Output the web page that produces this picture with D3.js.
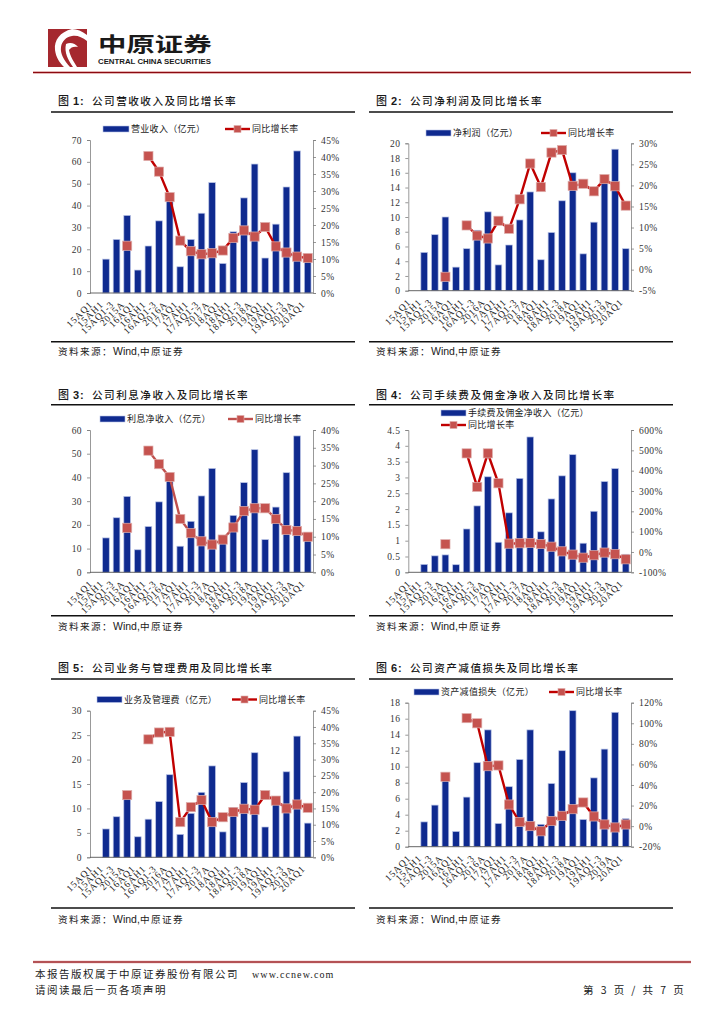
<!DOCTYPE html>
<html><head><meta charset="utf-8">
<script src="https://cdn.jsdelivr.net/npm/d3@7/dist/d3.min.js"></script>
<style>
html,body{margin:0;padding:0;background:#fff}
svg{display:block}
text{font-family:"Noto Sans CJK SC","Noto Sans",sans-serif;fill:#1a1a1a}
.tick text{font-family:"Liberation Serif",serif;font-size:9.5px;letter-spacing:0.4px;fill:#333}
.xl text{font-family:"Liberation Serif",serif;font-size:9.5px;letter-spacing:0.9px;fill:#222}
</style></head><body>
<svg id="page" width="724" height="1024"></svg>
<script>
const periods = ["15AQ1","15AH1","15AQ1-3","2015A","16AQ1","16AH1","16AQ1-3","2016A","17AQ1","17AH1","17AQ1-3","2017A","18AQ1","18AH1","18AQ1-3","2018A","19AQ1","19AH1","19AQ1-3","2019A","20AQ1"];

const revenue = [null,15.5,24.5,35.5,10.5,21.5,33,43,12,24.5,36.5,50.5,13.5,28,43.5,59,16,31.5,48.5,65,17];
const revenueYoy = [null,null,null,13.9,null,40.3,35.7,28.2,15.4,12.3,11.4,11.7,12.5,16.2,18.4,16.6,19.4,13.7,11.9,10.7,10.3];

const profit = [null,5.2,7.6,10,3.2,5.7,8.2,10.7,3.5,6.2,9.6,13.4,4.2,7.9,12.2,16,5,9.3,14.7,19.2,5.7];
const profitYoy = [null,null,null,-1.7,null,10.5,8.1,7.4,11.6,9.7,16.7,25.2,19.6,27.8,28.4,19.9,20.4,18.6,21.5,19.8,15.2];

const interest = [null,14.5,23,32,9.5,19.3,29.7,40,11,21.5,32.2,43.8,12.5,24,37.8,51.7,13.8,27.5,42,57.5,14];
const interestYoy = [null,null,null,12.5,null,34.2,30.4,26.8,15,11,8.7,7.8,9.2,12.6,17.2,18,18,15,11.9,11.6,10];

const fees = [null,0.25,0.52,0.55,0.24,1.37,2.1,3.02,0.95,1.88,2.97,4.28,1.28,2.32,3.05,3.72,0.92,1.93,2.87,3.28,0.57];
const feesYoy = [null,null,null,38,null,485,320,485,338,41,43,44,39,26,3,-13,-28,-16,-3,-11,-36];

const opex = [null,5.8,8.3,12.5,4.2,7.8,11.4,16.9,4.7,9,13.3,18.7,5.2,10.2,15.3,21.4,6.2,11,17.5,24.8,7];
const opexYoy = [null,null,null,19.1,null,36.2,38.3,38.5,10.8,15.4,17.6,10.8,12.3,13.9,14.9,14.6,19.1,17.4,15,16.2,15.2];

const impair = [null,3.1,5.2,9.2,1.9,6.2,10.5,14.6,2.9,7.5,10.9,14.6,2.8,7.9,12,17,3.4,8.6,12.2,16.8,3.5];
const impairYoy = [null,null,null,48,null,105,100,58.3,59,21,4,0,-5,5,10,16.5,23,9.4,1.6,-1.3,1.6];

const yoyLabel = "同比增长率";
const sourceLabel = "Wind,";
const sourceName = "中原证券";

const leftTicks1 = [0,10,20,30,40,50,60,70];
const rightTicks1 = [0,5,10,15,20,25,30,35,40,45];
const leftTicks2 = [0,2,4,6,8,10,12,14,16,18,20];
const rightTicks2 = [-5,0,5,10,15,20,25,30];
const leftTicks3 = [0,10,20,30,40,50,60];
const rightTicks3 = [0,5,10,15,20,25,30,35,40];
const leftTicks4 = [0,0.5,1,1.5,2,2.5,3,3.5,4,4.5];
const rightTicks4 = [-100,0,100,200,300,400,500,600];
const leftTicks5 = [0,5,10,15,20,25,30];
const rightTicks5 = [0,5,10,15,20,25,30,35,40,45];
const leftTicks6 = [0,2,4,6,8,10,12,14,16,18];
const rightTicks6 = [-20,0,20,40,60,80,100,120];

const LX = [90,313], RX = [408.3,631];
const panels = [
 {n:"1",title:"公司营收收入及同比增长率",name:"营业收入（亿元）",bars:revenue,yoy:revenueYoy,lt:leftTicks1,rt:rightTicks1,x:LX,y:[140,293],rule:51,titleY:105,top:112,bottom:341.7,src:355,sw:[103,129,129],ln:[225,250,129],lineC:"#c00000"},
 {n:"2",title:"公司净利润及同比增长率",name:"净利润（亿元）",bars:profit,yoy:profitYoy,lt:leftTicks2,rt:rightTicks2,x:RX,y:[143.3,290.7],rule:369,titleY:105,top:112,bottom:341.7,src:355,sw:[426,451,133],ln:[541,566,133],lineC:"#c00000"},
 {n:"3",title:"公司利息净收入及同比增长率",name:"利息净收入（亿元）",bars:interest,yoy:interestYoy,lt:leftTicks3,rt:rightTicks3,x:LX,y:[430,572.3],rule:51,titleY:399,top:404.7,bottom:615.7,src:630,sw:[100,125,419],ln:[228,253,419],lineC:"#c0504d"},
 {n:"4",title:"公司手续费及佣金净收入及同比增长率",name:"手续费及佣金净收入（亿元）",bars:fees,yoy:feesYoy,lt:leftTicks4,rt:rightTicks4,x:RX,y:[430,572.3],rule:369,titleY:399,top:404.7,bottom:615.7,src:630,sw:[441,466,413],ln:[441,466,425],lineC:"#c00000"},
 {n:"5",title:"公司业务与管理费用及同比增长率",name:"业务及管理费（亿元）",bars:opex,yoy:opexYoy,lt:leftTicks5,rt:rightTicks5,x:LX,y:[710.7,857.3],rule:51,titleY:672,top:679,bottom:908,src:923,sw:[97,122,699.5],ln:[232,257,699.5],lineC:"#c00000"},
 {n:"6",title:"公司资产减值损失及同比增长率",name:"资产减值损失（亿元）",bars:impair,yoy:impairYoy,lt:leftTicks6,rt:rightTicks6,x:RX,y:[702.7,846.7],rule:369,titleY:672,top:679,bottom:908,src:923,sw:[414,439,692],ln:[549,574,692],lineC:"#c00000"}
];

const svg = d3.select("#page");
const AX = "#7f7f7f", BAR = "#0f2a8f", HALO = "#b9c4e6", MK = "#c5534f", MKS = "#dfafad";

function drawPanel(p){
  const g = svg.append("g");
  const x = d3.scaleBand().domain(periods).range(p.x).paddingInner(0.37).paddingOuter(0.185);
  const yL = d3.scaleLinear().domain(d3.extent(p.lt)).range([p.y[1],p.y[0]]);
  const yR = d3.scaleLinear().domain(d3.extent(p.rt)).range([p.y[1],p.y[0]]);
  const cx = d => x(d)+x.bandwidth()/2;

  // title
  g.append("text").attr("x",p.rule+7).attr("y",p.titleY).attr("font-size",11).attr("font-weight",500).text("图");
  g.append("text").attr("x",p.rule+22).attr("y",p.titleY).attr("font-size",11).attr("font-weight",700).attr("letter-spacing",1).style("font-family","'Liberation Sans',sans-serif").text(p.n+":");
  g.append("text").attr("x",p.rule+41).attr("y",p.titleY).attr("font-size",10.6).attr("font-weight",500).attr("letter-spacing",1.5).text(p.title);
  // rules
  [p.top,p.bottom].forEach(r=>g.append("line").attr("x1",p.rule).attr("x2",p.rule+304).attr("y1",r).attr("y2",r).attr("stroke","#111").attr("stroke-width",1.6));
  g.append("text").attr("x",p.rule+7).attr("y",p.src).attr("font-size",9.6).attr("letter-spacing",1.4).text("资料来源：");
  g.append("text").attr("x",p.rule+62).attr("y",p.src).attr("font-size",10.5).style("font-family","'Liberation Sans',sans-serif").text(sourceLabel);
  g.append("text").attr("x",p.rule+89).attr("y",p.src).attr("font-size",9.6).attr("letter-spacing",1.4).text(sourceName);

  // bars
  const rows = periods.map((d,i)=>({d,b:p.bars[i],v:p.yoy[i]}));
  g.selectAll("rect.b").data(rows.filter(r=>r.b!=null)).join("rect")
    .attr("x",r=>x(r.d)).attr("width",x.bandwidth())
    .attr("y",r=>yL(r.b)).attr("height",r=>yL(0)-yL(r.b))
    .attr("fill",BAR).attr("stroke",HALO).attr("stroke-width",0.7);

  // axes
  const al = g.append("g").attr("transform",`translate(${p.x[0]},0)`).call(d3.axisLeft(yL).tickValues(p.lt).tickFormat(d=>String(d)).tickSize(3).tickPadding(5));
  const ar = g.append("g").attr("transform",`translate(${p.x[1]},0)`).call(d3.axisRight(yR).tickValues(p.rt).tickFormat(d=>d+"%").tickSize(3).tickPadding(5));
  [al,ar].forEach(a=>{a.selectAll("path,line").attr("stroke",AX).attr("stroke-width",0.8);});
  g.append("line").attr("x1",p.x[0]).attr("x2",p.x[1]).attr("y1",yL(0)).attr("y2",yL(0)).attr("stroke","#555").attr("stroke-width",0.9);

  // line (gaps where a value is missing)
  const line = d3.line().defined(r=>r.v!=null).x(r=>cx(r.d)).y(r=>yR(r.v));
  g.append("path").datum(rows).attr("d",line).attr("fill","none").attr("stroke",p.lineC).attr("stroke-width",2.4);
  g.selectAll("rect.m").data(rows.filter(r=>r.v!=null)).join("rect")
    .attr("x",r=>cx(r.d)-4.6).attr("y",r=>yR(r.v)-4.6).attr("width",9.2).attr("height",9.2)
    .attr("fill",MK).attr("stroke",MKS).attr("stroke-width",0.7);

  // rotated period labels
  const xl = g.append("g").attr("class","xl");
  xl.selectAll("text").data(periods).join("text")
    .attr("text-anchor","end")
    .attr("transform",d=>`translate(${cx(d)-2},${p.y[1]+12}) rotate(-45)`)
    .text(d=>d);

  // legend
  g.append("rect").attr("x",p.sw[0]).attr("y",p.sw[2]-3).attr("width",p.sw[1]-p.sw[0]).attr("height",6).attr("fill",BAR).attr("stroke",HALO).attr("stroke-width",0.6);
  g.append("text").attr("x",p.sw[1]+2).attr("y",p.sw[2]+3.3).attr("font-size",9).attr("letter-spacing",0.3).text(p.name);
  g.append("line").attr("x1",p.ln[0]).attr("x2",p.ln[1]).attr("y1",p.ln[2]).attr("y2",p.ln[2]).attr("stroke",p.lineC).attr("stroke-width",2.4);
  g.append("rect").attr("x",(p.ln[0]+p.ln[1])/2-3.5).attr("y",p.ln[2]-3.5).attr("width",7).attr("height",7).attr("fill",MK).attr("stroke",MKS).attr("stroke-width",0.6);
  g.append("text").attr("x",p.ln[1]+2).attr("y",p.ln[2]+3.3).attr("font-size",9).attr("letter-spacing",0.3).text(yoyLabel);
}
panels.forEach(drawPanel);

// header
const hd = svg.append("g");
hd.append("rect").attr("x",48).attr("y",29).attr("width",39).attr("height",38).attr("fill","#a5282e");
hd.append("path").attr("d","M72 29 C60 32 54 40 55 50 C56 58 60 63 64 67 L70 67 C64 60 60 54 61 47 C62 41 66 37 72 36 C77 35 82 37 87 41 L87 35 C82 31 77 29 72 29Z").attr("fill","#fff");
hd.append("path").attr("d","M66 44 C70 42 75 43 78 47 C74 46 71 47 69 50 C70 56 74 62 77 67 L73 67 C68 60 64 52 66 44Z").attr("fill","#fff");
hd.append("text").attr("transform","translate(98,52) scale(1.42,1)").attr("font-size",20).attr("font-weight",700).attr("fill","#111").text("中原证券");
hd.append("text").attr("x",98).attr("y",63.5).attr("font-size",7.4).attr("font-weight",700).style("font-family","'Liberation Sans',sans-serif").attr("textLength",113).attr("lengthAdjust","spacingAndGlyphs").text("CENTRAL CHINA SECURITIES");
[[2.4,"#dd9a9a"],[1.1,"#8b0a10"]].forEach(s=>hd.append("line").attr("x1",33).attr("x2",691).attr("y1",72.5).attr("y2",72.5).attr("stroke",s[1]).attr("stroke-width",s[0]));

// footer
const ft = svg.append("g");
[[2.4,"#dd9a9a"],[1.1,"#8b0a10"]].forEach(s=>ft.append("line").attr("x1",33).attr("x2",691).attr("y1",962).attr("y2",962).attr("stroke",s[1]).attr("stroke-width",s[0]));
ft.append("text").attr("x",35).attr("y",978).attr("font-size",10.5).attr("letter-spacing",1.5).text("本报告版权属于中原证券股份有限公司");
ft.append("text").attr("x",252).attr("y",978).attr("font-size",10).attr("letter-spacing",1.1).style("font-family","'Liberation Serif',serif").text("www.ccnew.com");
ft.append("text").attr("x",35).attr("y",994).attr("font-size",10.5).attr("letter-spacing",1.5).text("请阅读最后一页各项声明");
ft.append("text").attr("x",583).attr("y",994).attr("font-size",10.5).attr("letter-spacing",2.4).text("第 3 页 / 共 7 页");
</script>
</body></html>
